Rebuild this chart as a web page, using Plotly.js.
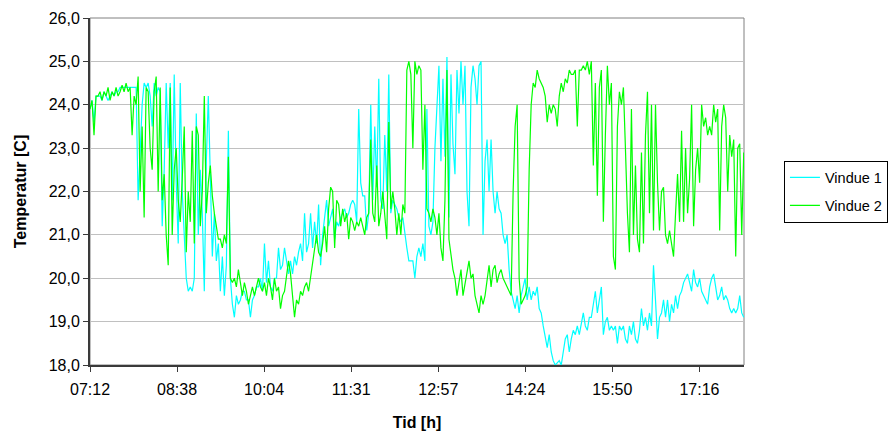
<!DOCTYPE html>
<html>
<head>
<meta charset="utf-8">
<script src="https://cdn.plot.ly/plotly-3.0.1.min.js"></script>
<style>
html,body{margin:0;padding:0;background:#fff;}
#chart{width:890px;height:433px;}
</style>
</head>
<body>
<div id="chart"></div>
<script>
// Time axis: minutes after midnight, first sample 07:12, roughly one sample every 2 minutes
const startMinute = 432;
const sampleStep = 1.99;

const tickMinutes = [432, 518.4, 604.8, 691.2, 777.6, 864, 950.4, 1036.8];
const tickLabels = ["07:12", "08:38", "10:04", "11:31", "12:57", "14:24", "15:50", "17:16"];

const seriesNames = ["Vindue 1", "Vindue 2"];

const vindue1 = [
23.9,24.1,23.6,24.2,24.2,24.2,24.1,24.3,24.2,24.1,
24.2,24.3,24.2,24.3,24.3,24.4,24.4,24.4,24.4,24.4,
24.4,24.4,24.4,24.4,21.8,23.0,24.0,24.5,24.4,24.5,
24.2,23.5,24.5,24.2,24.4,24.3,21.2,22.5,24.5,23.0,
24.5,21.8,24.7,22.2,20.8,24.5,22.0,21.0,20.0,19.7,
19.8,19.7,20.0,23.8,21.0,22.5,21.5,19.7,22.7,24.2,
22.0,20.5,21.5,20.4,20.8,19.7,20.5,19.6,20.3,23.4,
20.0,19.4,19.1,19.6,19.4,19.5,19.7,19.7,19.5,19.5,
19.1,19.5,19.6,19.8,19.8,20.0,19.7,20.8,19.9,20.4,
19.8,19.7,20.0,20.0,20.7,20.2,20.3,20.7,20.4,20.1,
20.4,20.1,20.5,20.3,20.6,20.8,20.4,21.5,20.6,20.8,
21.5,20.7,21.3,20.8,21.7,20.3,21.0,21.4,21.8,21.2,
21.4,21.6,20.9,21.3,21.2,21.4,21.5,21.6,21.4,21.5,
21.7,21.8,21.7,21.3,23.9,22.2,21.9,21.9,21.1,21.5,
24.0,21.8,23.5,22.1,24.6,21.8,21.6,23.3,22.0,24.7,
21.5,21.8,21.7,21.6,21.4,21.3,21.4,21.0,20.7,20.4,
20.4,20.4,20.0,20.5,20.7,20.5,20.8,20.4,23.9,21.2,
21.0,21.3,23.0,24.0,24.9,22.7,24.6,22.8,25.1,21.4,
24.7,23.1,22.4,24.8,23.8,25.0,24.0,24.9,22.0,21.2,
24.4,24.9,24.6,24.0,24.9,25.0,21.0,22.7,23.2,22.0,
23.2,22.0,21.5,22.0,21.6,21.5,21.0,20.8,21.0,20.2,
19.7,19.5,19.3,19.6,19.2,19.6,19.8,20.0,19.5,19.8,
19.5,19.7,19.6,19.8,19.3,19.2,18.9,18.6,18.4,18.7,
18.3,18.1,18.0,18.05,18.1,18.0,18.3,18.6,18.7,18.3,
18.6,18.8,18.7,18.9,18.7,19.0,19.2,18.9,18.8,19.1,
19.1,19.4,19.7,19.2,19.5,19.8,18.7,19.0,19.1,18.8,
18.9,18.8,18.9,18.5,18.9,18.8,18.9,18.6,18.5,18.9,
18.7,19.0,18.6,18.5,18.8,19.3,18.9,19.1,18.8,19.2,
18.9,20.3,19.5,18.6,19.1,19.2,19.5,19.1,19.5,19.0,
19.4,19.2,19.6,19.3,19.6,19.7,19.9,20.0,20.1,19.9,
19.7,20.2,19.9,19.8,20.0,19.7,19.6,19.5,19.4,19.8,
20.0,20.1,19.8,19.5,19.6,19.8,19.5,19.6,19.5,19.3,
19.2,19.3,19.2,19.3,19.6,19.2,19.1
];

const vindue2 = [
23.9,24.1,23.3,24.2,24.2,24.3,24.1,24.3,24.2,24.4,
24.1,24.3,24.2,24.4,24.2,24.3,24.45,24.3,24.5,24.3,
24.4,23.3,24.2,24.0,24.65,22.0,23.5,21.4,24.4,24.3,
23.0,22.5,24.3,24.65,22.0,24.4,21.8,22.4,21.0,20.3,
24.4,21.0,22.5,23.0,21.8,21.3,22.3,23.5,20.6,22.0,
21.3,23.4,20.8,23.5,23.3,21.2,22.0,24.2,21.5,22.2,
22.6,21.9,21.5,21.2,20.9,20.9,20.7,21.0,20.8,22.8,
20.0,19.9,20.0,19.8,20.2,19.9,19.6,19.9,19.7,19.4,
19.6,19.8,19.6,19.8,20.0,19.8,19.7,19.9,19.6,20.0,
19.8,19.5,20.0,19.7,19.8,19.3,19.6,19.7,20.0,20.4,
20.1,19.6,19.1,19.5,19.4,19.7,19.6,19.8,19.9,19.7,
20.0,20.3,20.6,21.0,20.6,20.5,20.8,21.2,20.6,21.6,
22.1,22.0,20.7,21.8,21.7,21.2,21.6,21.3,21.5,20.9,
21.4,21.3,21.1,21.3,21.2,21.4,21.2,21.0,21.4,21.5,
23.2,21.5,21.3,22.6,21.2,21.5,22.0,21.4,20.9,23.6,
21.6,22.0,21.6,21.0,21.5,21.0,21.7,21.5,24.8,25.0,
24.7,23.0,25.0,24.7,24.9,24.8,22.5,24.0,21.6,21.5,
21.3,21.6,21.4,21.0,21.5,20.7,20.4,21.8,24.8,20.9,
20.5,20.2,20.0,19.6,19.9,20.2,19.6,19.9,20.1,20.4,
20.0,20.1,19.6,19.4,19.2,19.6,19.4,19.6,20.0,20.3,
19.8,20.2,20.3,19.9,20.1,20.2,20.0,19.9,19.8,19.7,
19.6,22.0,23.5,24.0,20.0,19.4,19.5,19.6,19.8,22.5,
24.0,24.5,24.4,24.8,24.6,24.5,24.4,24.2,23.6,24.0,
23.8,24.0,23.9,23.5,24.2,24.5,24.3,24.6,24.5,24.8,
24.7,24.7,24.8,23.5,24.8,24.8,24.9,24.8,25.0,24.7,
25.0,22.6,24.5,21.9,24.4,24.8,21.3,23.3,24.9,24.0,
24.5,20.5,20.2,23.5,24.3,24.0,24.4,23.0,21.5,20.6,
23.9,21.0,22.6,20.9,20.6,22.9,20.8,23.3,24.3,21.5,
24.0,21.1,24.0,22.2,21.1,22.0,22.1,21.0,20.8,21.1,
20.8,20.5,21.5,22.4,21.3,23.4,21.3,23.0,21.5,22.3,
24.0,21.2,22.5,23.0,22.2,24.0,23.5,23.7,23.3,23.5,
23.3,24.0,23.6,23.9,21.1,23.5,24.0,23.7,22.0,23.3,
22.8,23.2,20.5,23.0,23.1,21.0,22.9
];

const times = vindue1.map((_, i) => startMinute + i * sampleStep);

const traces = [
  {x: times, y: vindue1, name: seriesNames[0], legendgroup: "a", type: "scatter", mode: "lines",
   line: {color: "#00FFFF", width: 1.2}},
  {x: times, y: vindue2, name: seriesNames[1], legendgroup: "b", type: "scatter", mode: "lines",
   line: {color: "#00FF00", width: 1.2}}
];

const fontFamily = "'Liberation Sans', Arial, sans-serif";

const layout = {
  width: 890, height: 433,
  margin: {l: 90, r: 146, t: 18, b: 68, autoexpand: false},
  paper_bgcolor: "#fff", plot_bgcolor: "#fff",
  separators: ", ",
  font: {family: fontFamily, size: 16, color: "#000"},
  showlegend: true,
  legend: {x: 1.2201, y: 0.5, xanchor: "right", yanchor: "middle",
           bordercolor: "#000", borderwidth: 1, bgcolor: "#fff",
           font: {family: fontFamily, size: 14.5, color: "#000"},
           traceorder: "grouped", tracegroupgap: 6, itemwidth: 30},
  xaxis: {
    range: [432, 1081], tickmode: "array", tickvals: tickMinutes, ticktext: tickLabels,
    showgrid: false, zeroline: false, showline: true, linecolor: "#3a3a3a", linewidth: 2,
    ticks: "outside", ticklen: 5, tickcolor: "#3a3a3a", tickwidth: 1,
    ticklabelstandoff: 4,
    tickfont: {family: fontFamily, size: 16, color: "#000"},
    title: {text: "<b>Tid [h]</b>", font: {family: fontFamily, size: 16, color: "#000"}, standoff: 20},
    automargin: false
  },
  yaxis: {
    range: [18, 26], dtick: 1, tick0: 18, tickformat: ".1f",
    showgrid: true, gridcolor: "#c0c0c0", gridwidth: 1, zeroline: false,
    showline: true, linecolor: "#3a3a3a", linewidth: 2,
    ticks: "outside", ticklen: 5, tickcolor: "#3a3a3a", tickwidth: 1,
    tickfont: {family: fontFamily, size: 16, color: "#000"},
    title: {text: "<b>Temperatur [C]</b>", font: {family: fontFamily, size: 16, color: "#000"}, standoff: 18},
    automargin: false
  },
  shapes: [
    {type: "rect", xref: "paper", yref: "paper", x0: 0, x1: 1, y0: 0, y1: 1,
     line: {color: "#808080", width: 1}, layer: "below"}
  ],
  hovermode: false
};

Plotly.newPlot("chart", traces, layout, {displayModeBar: false, staticPlot: true});
</script>
</body>
</html>
